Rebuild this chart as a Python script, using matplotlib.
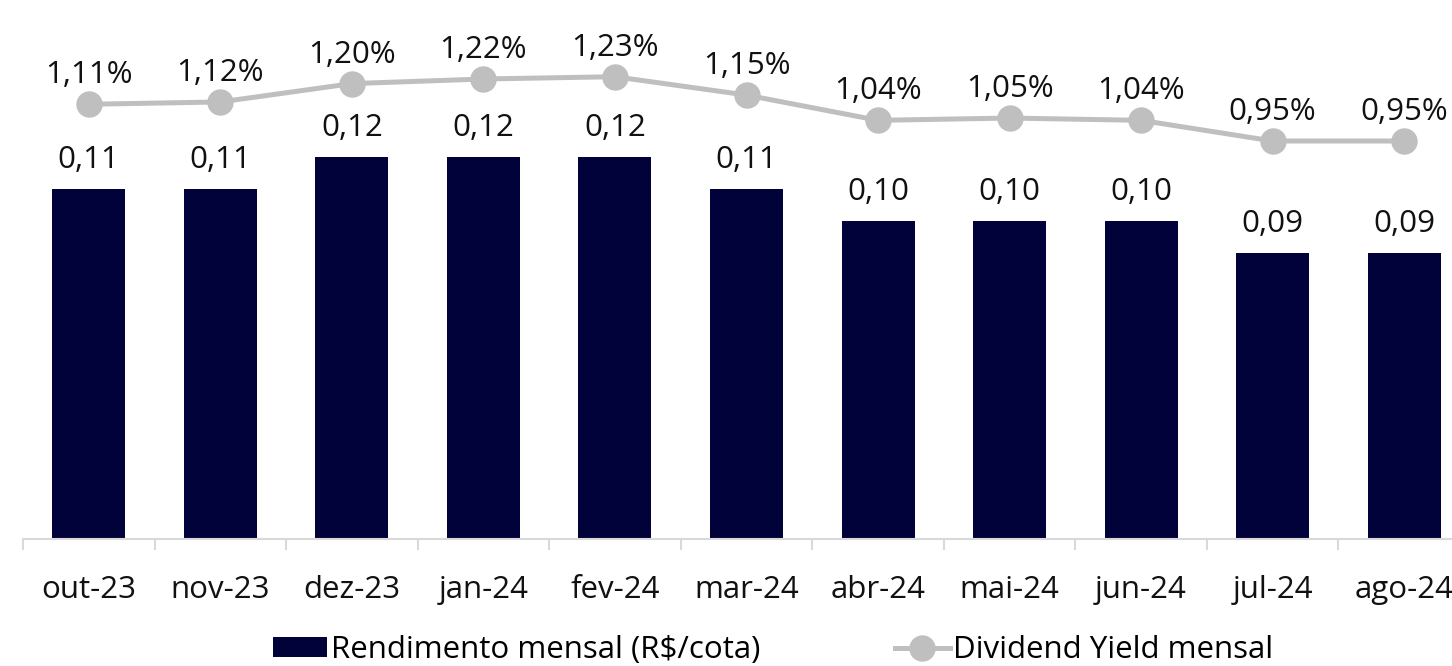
import matplotlib
matplotlib.use('Agg')
import matplotlib.pyplot as plt
import numpy as np

plt.rcParams['font.family'] = ['Open Sans', 'DejaVu Sans']

""" DATOS """
meses = ['out-23', 'nov-23', 'dez-23', 'jan-24', 'fev-24', 'mar-24',
         'abr-24', 'mai-24', 'jun-24', 'jul-24', 'ago-24']
rendimento = [0.11, 0.11, 0.12, 0.12, 0.12, 0.11, 0.10, 0.10, 0.10, 0.09, 0.09]
dy = [1.11, 1.12, 1.20, 1.22, 1.23, 1.15, 1.04, 1.05, 1.04, 0.95, 0.95]

cor_barra = '#02023A'
cor_linha = '#BFBFBF'
fs = 22.5

# figura 1452x666
fig = plt.figure(figsize=(14.52, 6.66), dpi=100)
ax = fig.add_axes([23 / 1452, 127 / 666, 1447 / 1452, 539 / 666])

x = np.arange(len(meses))
ax.bar(x, rendimento, width=0.555, color=cor_barra, label='Rendimento mensal (R$/cota)')
ax.set_xlim(-0.5, len(meses) - 0.5)
ax.set_ylim(0, 0.1695)

# etiquetas de las barras
for xi, v in zip(x, rendimento):
    ax.annotate(f'{v:.2f}'.replace('.', ','), (xi, v), xytext=(0, 29), textcoords='offset pixels',
                ha='center', va='center', fontsize=fs, color='#111111')

# eje secundario para el dividend yield
ax2 = ax.twinx()
ax2.plot(x, dy, color=cor_linha, lw=3.6, marker='o', ms=18, label='Dividend Yield mensal')
ax2.set_ylim(-0.783, 1.564)
for xi, v in zip(x, dy):
    ax2.annotate(f'{v:.2f}%'.replace('.', ','), (xi, v), xytext=(0, 29), textcoords='offset pixels',
                 ha='center', va='center', fontsize=fs, color='#111111')

# estilo de ejes
for a in (ax, ax2):
    for s in ['top', 'right', 'left']:
        a.spines[s].set_visible(False)
    a.set_yticks([])
ax2.spines['bottom'].set_visible(False)
ax.spines['bottom'].set_color('#D9D9D9')
ax.spines['bottom'].set_linewidth(1.5)

ax.set_xticks(x)
ax.set_xticklabels(meses, fontsize=fs, color='#111111')
ax.tick_params(axis='x', which='major', length=0, pad=26)
ax.set_xticks(np.arange(len(meses) + 1) - 0.5, minor=True)
ax.tick_params(axis='x', which='minor', length=8, width=1.5, color='#D9D9D9')

# leyenda
h1, l1 = ax.get_legend_handles_labels()
h2, l2 = ax2.get_legend_handles_labels()
fig.legend(h1 + h2, l1 + l2, loc='center', bbox_to_anchor=(773 / 1452, 1 - 650 / 666),
           ncol=2, frameon=False, fontsize=fs, handlelength=1.75, handleheight=0.6,
           handletextpad=0.12, columnspacing=4.3, borderpad=0)

fig.savefig('out.png', dpi=100)
